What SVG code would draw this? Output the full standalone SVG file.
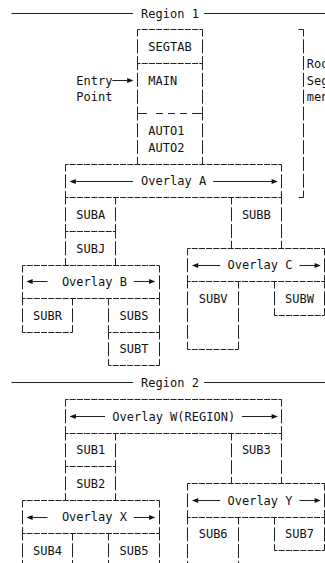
<svg xmlns="http://www.w3.org/2000/svg" width="325" height="563" viewBox="0 0 325 563">
  <style>
    text { font-family: "DejaVu Sans Mono", "Liberation Mono", monospace; font-size: 12px; fill: #111; }
    .h { stroke: #222; stroke-width: 1; fill: none; stroke-dasharray: 6 1.2; stroke-dashoffset: 3; }
    .v { stroke: #222; stroke-width: 1; fill: none; stroke-dasharray: 14 2.8; stroke-dashoffset: 7; }
    .s { stroke: #222; stroke-width: 1; fill: none; }
    .ah { fill: #111; }
  </style>
  <defs>
    <path id="ahL" class="ah" d="M0 0L6.2 -2.6V2.6Z"/>
    <path id="ahR" class="ah" d="M0 0L-6.2 -2.6V2.6Z"/>
  </defs>

  <!-- region headers -->
  <g id="region-1">
    <path class="s" d="M11.5 13.5H133M204 13.5H325"/>
    <text x="141.1" y="17.6">Region 1</text>
  </g>
  <g id="region-2">
    <path class="s" d="M11.5 382.5H133M204 382.5H325"/>
    <text x="141.1" y="386.9">Region 2</text>
  </g>

  <!-- root segment: SEGTAB / MAIN / AUTO1 AUTO2 -->
  <g id="root-segment">
    <path class="h" d="M137.5 29.5H202.5"/>
    <path class="h" d="M137.5 63.5H202.5"/>
    <path class="s" d="M137.5 113.5H147M156 113.5H163M168 113.5H175M180 113.5H187M192 113.5H202.5"/>
    <path class="v" d="M137.5 29.5V164.5"/>
    <path class="v" d="M202.5 29.5V164.5"/>
    <text x="148.3" y="50.9">SEGTAB</text>
    <text x="148.3" y="84.5">MAIN</text>
    <text x="148.3" y="134.9">AUTO1</text>
    <text x="148.3" y="151.7">AUTO2</text>
  </g>

  <!-- root segment bracket and label -->
  <g id="root-label">
    <path class="s" d="M298.5 29.5H303.5M298.5 197.5H303.5"/>
    <path class="v" d="M303.5 29.5V197.5"/>
    <text x="306.7" y="67.7">Root</text>
    <text x="306.7" y="84.5">Seg-</text>
    <text x="306.7" y="101.3">ment</text>
  </g>

  <!-- Region 1 overlay tree -->
  <g id="overlay-a">
    <path class="h" d="M65.5 164.5H281.5M65.5 197.5H281.5"/>
    <path class="v" d="M65.5 164.5V197.5M281.5 164.5V197.5"/>
    <use href="#ahL" x="69.6" y="181.5"/>
    <path class="s" d="M75 181.5H133M213.1 181.5H272"/>
    <use href="#ahR" x="277.8" y="181.5"/>
    <text x="141.1" y="185.3">Overlay A</text>
  </g>
  <g id="suba">
    <path class="h" d="M65.5 231.5H115.5"/>
    <path class="v" d="M65.5 197.5V231.5M115.5 197.5V231.5"/>
    <text x="76.3" y="218.9">SUBA</text>
  </g>
  <g id="subj">
    <path class="v" d="M65.5 231.5V265.5M115.5 231.5V265.5"/>
    <text x="76.3" y="252.5">SUBJ</text>
  </g>
  <g id="subb">
    <path class="v" d="M231.5 197.5V248.5M281.5 197.5V248.5"/>
    <text x="241.9" y="218.9">SUBB</text>
  </g>
  <g id="overlay-b">
    <path class="h" d="M22.5 265.5H159.5M22.5 298.5H159.5"/>
    <path class="v" d="M22.5 265.5V298.5M159.5 265.5V298.5"/>
    <use href="#ahL" x="26.4" y="281.5"/>
    <path class="s" d="M32 281.5H47.5M133.9 281.5H149.5"/>
    <use href="#ahR" x="155.3" y="281.5"/>
    <text x="61.9" y="286.1">Overlay B</text>
  </g>
  <g id="overlay-c">
    <path class="h" d="M187.5 248.5H324.5M187.5 281.5H324.5"/>
    <path class="v" d="M187.5 248.5V281.5M324.5 248.5V281.5"/>
    <use href="#ahL" x="192" y="265.5"/>
    <path class="s" d="M197.6 265.5H220.3M299.5 265.5H315"/>
    <use href="#ahR" x="320.8" y="265.5"/>
    <text x="227.5" y="269.3">Overlay C</text>
  </g>
  <g id="subr">
    <path class="h" d="M22.5 332.5H72.5"/>
    <path class="v" d="M22.5 298.5V332.5M72.5 298.5V332.5"/>
    <text x="33.1" y="319.7">SUBR</text>
  </g>
  <g id="subs">
    <path class="h" d="M108.5 332.5H159.5"/>
    <path class="v" d="M108.5 298.5V332.5M159.5 298.5V332.5"/>
    <text x="119.5" y="319.7">SUBS</text>
  </g>
  <g id="subt">
    <path class="h" d="M108.5 365.5H159.5"/>
    <path class="v" d="M108.5 332.5V365.5M159.5 332.5V365.5"/>
    <text x="119.5" y="353.3">SUBT</text>
  </g>
  <g id="subv">
    <path class="h" d="M187.5 349.5H238.5"/>
    <path class="v" d="M187.5 281.5V349.5M238.5 281.5V349.5"/>
    <text x="198.7" y="302.9">SUBV</text>
  </g>
  <g id="subw">
    <path class="h" d="M274.5 315.5H324.5"/>
    <path class="v" d="M274.5 281.5V315.5M324.5 281.5V315.5"/>
    <text x="285.1" y="302.9">SUBW</text>
  </g>

  <!-- Region 2 overlay tree -->
  <g id="overlay-w">
    <path class="h" d="M65.5 399.5H281.5M65.5 433.5H281.5"/>
    <path class="v" d="M65.5 399.5V433.5M281.5 399.5V433.5"/>
    <use href="#ahL" x="69.6" y="416.5"/>
    <path class="s" d="M75 416.5H105M241.9 416.5H272"/>
    <use href="#ahR" x="277.8" y="416.5"/>
    <text x="112.3" y="420.5">Overlay W(REGION)</text>
  </g>
  <g id="sub1">
    <path class="h" d="M65.5 466.5H115.5"/>
    <path class="v" d="M65.5 433.5V466.5M115.5 433.5V466.5"/>
    <text x="76.3" y="454.1">SUB1</text>
  </g>
  <g id="sub2">
    <path class="v" d="M65.5 466.5V500.5M115.5 466.5V500.5"/>
    <text x="76.3" y="487.7">SUB2</text>
  </g>
  <g id="sub3">
    <path class="v" d="M231.5 433.5V483.5M281.5 433.5V483.5"/>
    <text x="241.9" y="454.1">SUB3</text>
  </g>
  <g id="overlay-y">
    <path class="h" d="M187.5 483.5H324.5M187.5 517.5H324.5"/>
    <path class="v" d="M187.5 483.5V517.5M324.5 483.5V517.5"/>
    <use href="#ahL" x="192" y="500.5"/>
    <path class="s" d="M197.6 500.5H220.3M299.5 500.5H315"/>
    <use href="#ahR" x="320.8" y="500.5"/>
    <text x="227.5" y="504.5">Overlay Y</text>
  </g>
  <g id="overlay-x">
    <path class="h" d="M22.5 500.5H159.5M22.5 533.5H159.5"/>
    <path class="v" d="M22.5 500.5V533.5M159.5 500.5V533.5"/>
    <use href="#ahL" x="26.4" y="517.5"/>
    <path class="s" d="M32 517.5H47.5M133.9 517.5H149.5"/>
    <use href="#ahR" x="155.3" y="517.5"/>
    <text x="61.9" y="521.3">Overlay X</text>
  </g>
  <g id="sub4">
    <path class="v" d="M22.5 533.5V570M72.5 533.5V570"/>
    <text x="33.1" y="554.9">SUB4</text>
  </g>
  <g id="sub5">
    <path class="v" d="M108.5 533.5V570M159.5 533.5V570"/>
    <text x="119.5" y="554.9">SUB5</text>
  </g>
  <g id="sub6">
    <path class="v" d="M187.5 517.5V570M238.5 517.5V570"/>
    <text x="198.7" y="538.1">SUB6</text>
  </g>
  <g id="sub7">
    <path class="h" d="M274.5 550.5H324.5"/>
    <path class="v" d="M274.5 517.5V550.5M324.5 517.5V550.5"/>
    <text x="285.1" y="538.1">SUB7</text>
  </g>

  <!-- connectors -->
  <g id="connectors">
    <path class="s" d="M112.3 80.5H127.5"/>
    <use href="#ahR" x="133.4" y="80.5"/>
    <text x="76.3" y="84.5">Entry</text>
    <text x="76.3" y="101.3">Point</text>
  </g>
</svg>
